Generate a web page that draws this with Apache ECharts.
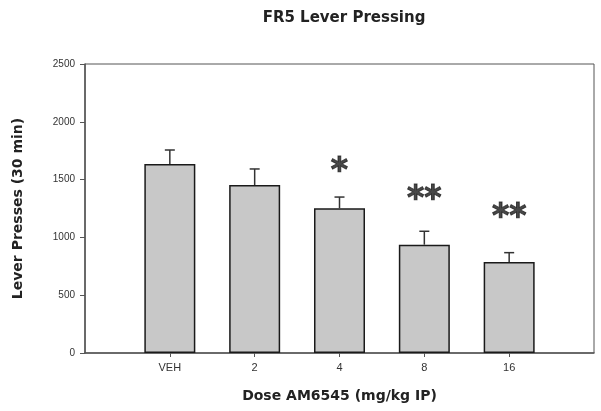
<!DOCTYPE html>
<html>
<head>
<meta charset="utf-8">
<script src="https://cdn.jsdelivr.net/npm/echarts@6/dist/echarts.min.js"></script>
<style>html,body{margin:0;padding:0;background:#fff}#c{width:601px;height:411px}</style>
</head>
<body>
<div id="c"></div>
<script>
var categories = ['VEH', '2', '4', '8', '16'];
var meanValues = [1635, 1453, 1252, 937, 787];
var semValues = [121, 139, 97, 116, 81];
var sigMarks = ['', '', '*', '**', '**'];
var sigHeights = [null, null, 1640, 1400, 1245];
var yTicks = [0, 500, 1000, 1500, 2000, 2500];

// padded category axis: empty slot on each side
var axisCats = [''].concat(categories).concat(['']);
var barData = ['-'].concat(meanValues).concat(['-']);
var errData = categories.map(function (c, i) { return [i + 1, meanValues[i], meanValues[i] + semValues[i]]; });
var sigData = [];
categories.forEach(function (c, i) { if (sigMarks[i]) sigData.push({ value: [i + 1, sigHeights[i]], mark: sigMarks[i] }); });

var chart = echarts.init(document.getElementById('c'), null, { renderer: 'canvas' });
chart.setOption({
  animation: false,
  backgroundColor: '#fff',
  title: {
    text: 'FR5 Lever Pressing', left: 339, top: 6, textAlign: 'center',
    textStyle: { fontFamily: 'DejaVu Sans', fontWeight: 'bold', fontSize: 15, color: '#222' }
  },
  grid: { left: 85, right: 7, top: 64, bottom: 58, show: true, borderColor: '#555', borderWidth: 1, backgroundColor: 'transparent' },
  xAxis: {
    type: 'category', data: axisCats, boundaryGap: false,
    axisLine: { lineStyle: { color: '#555', width: 1.5 } },
    axisTick: { show: true, length: 4, inside: false, interval: function (i) { return i > 0 && i < axisCats.length - 1; }, lineStyle: { color: '#555' } },
    axisLabel: { interval: 0, margin: 9, color: '#333', fontFamily: 'Liberation Sans', fontSize: 11 },
    splitLine: { show: false },
    name: 'Dose AM6545 (mg/kg IP)', nameLocation: 'middle', nameGap: 36,
    nameTextStyle: { fontFamily: 'DejaVu Sans', fontWeight: 'bold', fontSize: 14, color: '#222' }
  },
  yAxis: {
    type: 'value', min: yTicks[0], max: yTicks[yTicks.length - 1], interval: 500,
    axisLine: { show: true, lineStyle: { color: '#555', width: 1.5 } },
    axisTick: { show: true, length: 5, lineStyle: { color: '#555' } },
    axisLabel: { margin: 10, color: '#333', fontFamily: 'Liberation Sans', fontSize: 10, formatter: function (v) { return String(v); } },
    splitLine: { show: false },
    name: 'Lever Presses (30 min)', nameLocation: 'middle', nameGap: 60,
    nameTextStyle: { fontFamily: 'DejaVu Sans', fontWeight: 'bold', fontSize: 14, color: '#222' }
  },
  series: [
    {
      type: 'bar', data: barData, barWidth: 51,
      itemStyle: { color: '#c8c8c8', borderColor: '#1a1a1a', borderWidth: 1.5 },
      z: 2
    },
    {
      type: 'custom', data: errData, z: 3,
      renderItem: function (params, api) {
        var x = api.value(0);
        var p0 = api.coord([x, api.value(1)]);
        var p1 = api.coord([x, api.value(2)]);
        var hw = 5;
        return {
          type: 'group', children: [
            { type: 'line', shape: { x1: p0[0], y1: p0[1], x2: p1[0], y2: p1[1] }, style: { stroke: '#333', lineWidth: 1.5 } },
            { type: 'line', shape: { x1: p1[0] - hw, y1: p1[1], x2: p1[0] + hw, y2: p1[1] }, style: { stroke: '#333', lineWidth: 1.5 } }
          ]
        };
      }
    },
    {
      type: 'scatter', data: sigData, symbolSize: 0, z: 4,
      label: {
        show: true, position: 'inside', formatter: function (p) { return p.data.mark; },
        fontFamily: 'DejaVu Sans', fontWeight: 'bold', fontSize: 33, color: '#1a1a1a',
        textBorderColor: '#1a1a1a', textBorderWidth: 1,
        offset: [0, 9]
      }
    }
  ]
});
</script>
</body>
</html>
